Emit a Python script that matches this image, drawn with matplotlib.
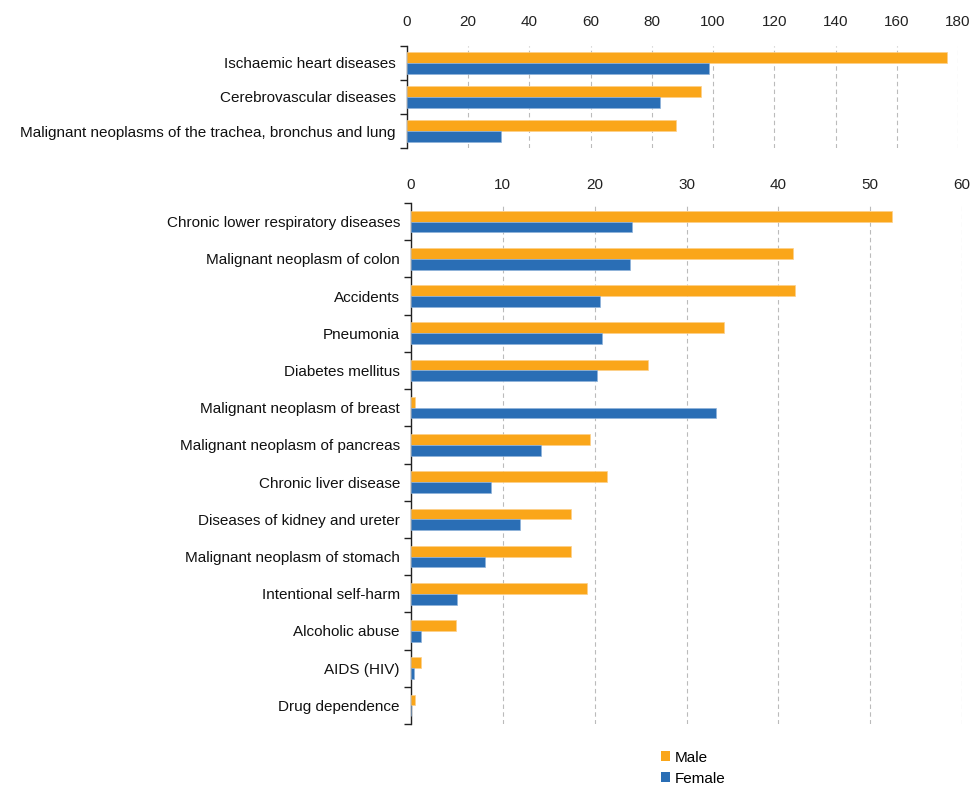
import matplotlib
matplotlib.use("Agg")
import matplotlib.pyplot as plt
from matplotlib.patches import Patch
import numpy as np

plt.rcParams['font.family'] = ['Liberation Sans', 'DejaVu Sans']

top_categories = ["Ischaemic heart diseases", "Cerebrovascular diseases",
                  "Malignant neoplasms of the trachea, bronchus and lung"]
top_male = [176.4, 95.9, 87.8]
top_female = [98.8, 82.5, 30.6]
top_ticks = [0, 20, 40, 60, 80, 100, 120, 140, 160, 180]

bottom_categories = ["Chronic lower respiratory diseases", "Malignant neoplasm of colon",
                     "Accidents", "Pneumonia", "Diabetes mellitus",
                     "Malignant neoplasm of breast", "Malignant neoplasm of pancreas",
                     "Chronic liver disease", "Diseases of kidney and ureter",
                     "Malignant neoplasm of stomach", "Intentional self-harm",
                     "Alcoholic abuse", "AIDS (HIV)", "Drug dependence"]
bottom_male = [52.4, 41.6, 41.8, 34.1, 25.8, 0.4, 19.5, 21.3, 17.4, 17.4, 19.2, 4.9, 1.1, 0.4]
bottom_female = [24.1, 23.9, 20.6, 20.8, 20.2, 33.2, 14.2, 8.7, 11.9, 8.1, 5.0, 1.1, 0.3, 0.0]
bottom_ticks = [0, 10, 20, 30, 40, 50, 60]

MALE_C = '#FAA61A'
FEMALE_C = '#2A6EB5'
FS = 11

fig = plt.figure(figsize=(9.74, 7.87), dpi=100)

W, H = 974, 787
def ax_rect(x0, x1, y0, y1):
    return [x0 / W, 1 - y1 / H, (x1 - x0) / W, (y1 - y0) / H]

def draw(ax, cats, male, female, ticks, bh, xpad):
    n = len(cats)
    y = np.arange(n)
    ax.barh(y - bh / 2, male, height=bh, color=MALE_C, edgecolor='#FCD08A', linewidth=0.5, zorder=3)
    ax.barh(y + bh / 2, female, height=bh, color=FEMALE_C, edgecolor='#8FB3DA', linewidth=0.5, zorder=3)
    ax.set_ylim(n - 0.5, -0.5)
    ax.set_xlim(ticks[0], ticks[-1])
    ax.set_xticks(ticks)
    ax.xaxis.tick_top()
    ax.tick_params(axis='x', length=0, labelsize=FS, pad=xpad, colors='#222222')
    ax.set_yticks(y)
    ax.set_yticklabels(cats)
    ax.tick_params(axis='y', which='major', length=0, labelsize=FS, pad=8, colors='#111111')
    ax.set_yticks(np.arange(n + 1) - 0.5, minor=True)
    ax.tick_params(axis='y', which='minor', length=5, width=1, color='#222222', direction='out')
    for s in ['top', 'right', 'bottom']:
        ax.spines[s].set_visible(False)
    ax.spines['left'].set_color('#222222')
    ax.spines['left'].set_linewidth(1)
    ax.grid(axis='x', linestyle=(0, (4, 3)), color='#BBBBBB', linewidth=0.8, zorder=0)
    ax.set_axisbelow(True)

ax1 = fig.add_axes(ax_rect(407, 958, 46, 148))
draw(ax1, top_categories, top_male, top_female, top_ticks, 0.31, 12)

ax2 = fig.add_axes(ax_rect(411, 962, 203, 724))
draw(ax2, bottom_categories, bottom_male, bottom_female, bottom_ticks, 0.29, 8)

handles = [Patch(facecolor=MALE_C, label='Male'), Patch(facecolor=FEMALE_C, label='Female')]
fig.legend(handles=handles, loc='upper left', bbox_to_anchor=(650 / W, 1 - 740 / H),
           frameon=False, fontsize=FS, handlelength=0.6, handleheight=0.6,
           handletextpad=0.3, labelspacing=0.45, borderpad=0.2)

fig.savefig('out.png', dpi=100)
